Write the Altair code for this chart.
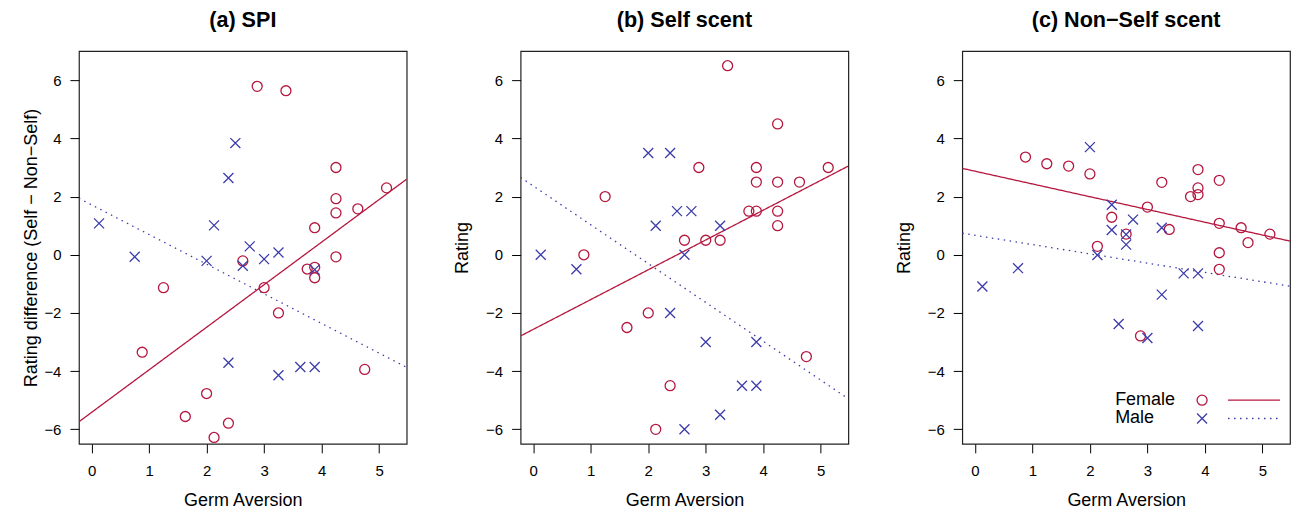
import altair as alt
import pandas as pd

# ---------------- data ----------------
germ_female = [0.88, 1.25, 1.63, 2.00, 2.13, 2.38, 2.63, 2.88, 3.00, 3.25, 3.38,
               3.75, 3.88, 3.88, 3.88, 4.25, 4.25, 4.25, 4.25, 4.63, 4.75, 5.13]
spi_female = [-3.35, -1.13, -5.56, -4.77, -6.28, -5.79, -0.21, 5.79, -1.13, -2.00, 5.64,
              -0.49, 0.93, -0.43, -0.79, 3.00, 1.93, 1.44, -0.07, 1.58, -3.94, 2.30]
self_female = [0.0, 2.0, -2.5, -2.0, -6.0, -4.5, 0.5, 3.0, 0.5, 0.5, 6.5,
               1.5, 3.0, 2.5, 1.5, 2.5, 4.5, 1.5, 1.0, 2.5, -3.5, 3.0]
nonself_female = [3.36, 3.13, 3.05, 2.78, 0.29, 1.29, 0.71, -2.79, 1.64, 2.49, 0.87,
                  2.00, 2.07, 2.93, 2.30, -0.50, 2.56, 0.07, 1.08, 0.93, 0.42, 0.71]

germ_male = [0.13, 0.75, 2.00, 2.13, 2.38, 2.38, 2.50, 2.63, 2.63, 2.75, 3.00,
             3.25, 3.25, 3.63, 3.88, 3.88]
spi_male = [1.08, -0.07, -0.21, 1.01, 2.64, -3.71, 3.84, -0.38, -6.70, 0.29, -0.15,
            0.08, -4.14, -3.86, -0.51, -3.86]
self_male = [0.0, -0.5, 3.5, 1.0, 3.5, -2.0, 1.5, 0.0, -6.0, 1.5, -3.0,
             1.0, -5.5, -4.5, -3.0, -4.5]
nonself_male = [-1.09, -0.46, 3.70, -0.01, 0.85, 1.72, -2.38, 0.35, 0.70, 1.21, -2.86,
                0.93, -1.37, -0.64, -2.45, -0.64]

# regression-line end points (at the plot edges)
line_x = [-0.22, 5.48]
fit_female_spi = [-5.74, 2.60]
fit_male_spi = [1.94, -3.87]
fit_female_self = [-2.79, 3.05]
fit_male_self = [2.66, -4.95]
fit_female_nonself = [2.97, 0.47]
fit_male_nonself = [0.74, -1.08]

x_ticks = [0, 1, 2, 3, 4, 5]
y_ticks = [-6, -4, -2, 0, 2, 4, 6]
x_domain = [-0.22, 5.48]
y_domain = [-6.5, 7.0]

sexes = ["Female", "Male"]
RED = "#B5173F"
BLUE = "#3B3BAA"
FONT = "Liberation Sans"
XSHAPE = "M-1,-1L1,1M-1,1L1,-1"

W, H = 328, 393


def panel(title, y_f, y_m, fit_f, fit_m, ytitle, ytitle_pad, legend=False):
    pts = pd.DataFrame({
        "x": germ_female + germ_male,
        "y": y_f + y_m,
        "sex": ["Female"] * len(germ_female) + ["Male"] * len(germ_male),
    })
    lines = pd.DataFrame({
        "x": line_x + line_x,
        "y": fit_f + fit_m,
        "sex": ["Female", "Female", "Male", "Male"],
    })
    xs = alt.Scale(domain=x_domain, nice=False, zero=False)
    ys = alt.Scale(domain=y_domain, nice=False, zero=False)
    xax = alt.Axis(values=x_ticks, format="d", title="Germ Aversion", grid=False,
                   domain=False, tickSize=9, tickColor="black", tickWidth=1,
                   labelPadding=11, labelFontSize=15, labelColor="black",
                   titleFontSize=18, titleFontWeight="normal", titleColor="black",
                   titlePadding=13, labelFont=FONT, titleFont=FONT)
    yax = alt.Axis(values=y_ticks, format="d", title=ytitle, grid=False,
                   domain=False, tickSize=9, tickColor="black", tickWidth=1,
                   labelPadding=9, labelFontSize=15, labelColor="black",
                   titleFontSize=18, titleFontWeight="normal", titleColor="black",
                   titlePadding=ytitle_pad, minExtent=35, maxExtent=35,
                   labelFont=FONT, titleFont=FONT)
    color = alt.Color("sex:N", scale=alt.Scale(domain=sexes, range=[RED, BLUE]), legend=None)

    points = alt.Chart(pts).mark_point(filled=False, size=100, strokeWidth=1.3, opacity=1, clip=True).encode(
        x=alt.X("x:Q", scale=xs, axis=xax),
        y=alt.Y("y:Q", scale=ys, axis=yax),
        color=color,
        shape=alt.Shape("sex:N", scale=alt.Scale(domain=sexes, range=["circle", XSHAPE]), legend=None),
    )
    fit = alt.Chart(lines).mark_line(strokeWidth=1.3, clip=True).encode(
        x=alt.X("x:Q", scale=xs),
        y=alt.Y("y:Q", scale=ys),
        color=color,
        detail="sex:N",
        strokeDash=alt.StrokeDash("sex:N", scale=alt.Scale(domain=sexes, range=[[1, 0], [1.5, 4.5]]), legend=None),
    )
    layers = [fit, points]
    if legend:
        for i, (lab, col, shp, dash) in enumerate([("Female", RED, "circle", [1, 0]),
                                                   ("Male", BLUE, XSHAPE, [1.5, 4.5])]):
            yy = 349.3 + 18.3 * i
            d = pd.DataFrame({"label": [lab]})
            layers.append(alt.Chart(d).mark_text(align="left", baseline="middle", fontSize=18,
                                                 font=FONT, color="black").encode(
                x=alt.value(153), y=alt.value(yy), text="label:N"))
            layers.append(alt.Chart(d).mark_point(filled=False, size=100, strokeWidth=1.3,
                                                  color=col, opacity=1, shape=shp).encode(
                x=alt.value(240), y=alt.value(yy)))
            layers.append(alt.Chart(d).mark_rule(color=col, strokeWidth=1.3, strokeDash=dash).encode(
                x=alt.value(266), x2=alt.value(318), y=alt.value(yy)))
    return alt.layer(*layers).properties(
        width=W, height=H,
        view=alt.ViewBackground(stroke="#222222", strokeWidth=1.2),
        title=alt.Title(title, fontSize=21.6, fontWeight="bold", font=FONT, color="black",
                        anchor="middle", baseline="alphabetic", offset=3),
    )


pa = panel("(a) SPI", spi_female, spi_male, fit_female_spi, fit_male_spi,
           "Rating difference (Self \u2212 Non\u2212Self)", 3)
pb = panel("(b) Self scent", self_female, self_male, fit_female_self, fit_male_self, "Rating", 14)
pc = panel("(c) Non\u2212Self scent", nonself_female, nonself_male, fit_female_nonself,
           fit_male_nonself, "Rating", 14, legend=True)

chart = alt.hconcat(pa, pb, pc, spacing=114, bounds="flush").properties(
    padding={"left": 14, "top": 0, "right": 0, "bottom": 0}
).configure_view(stroke="#222222", strokeWidth=1.2).configure(background="white")

chart.save("out.html", embed_options={"renderer": "svg", "actions": False})
